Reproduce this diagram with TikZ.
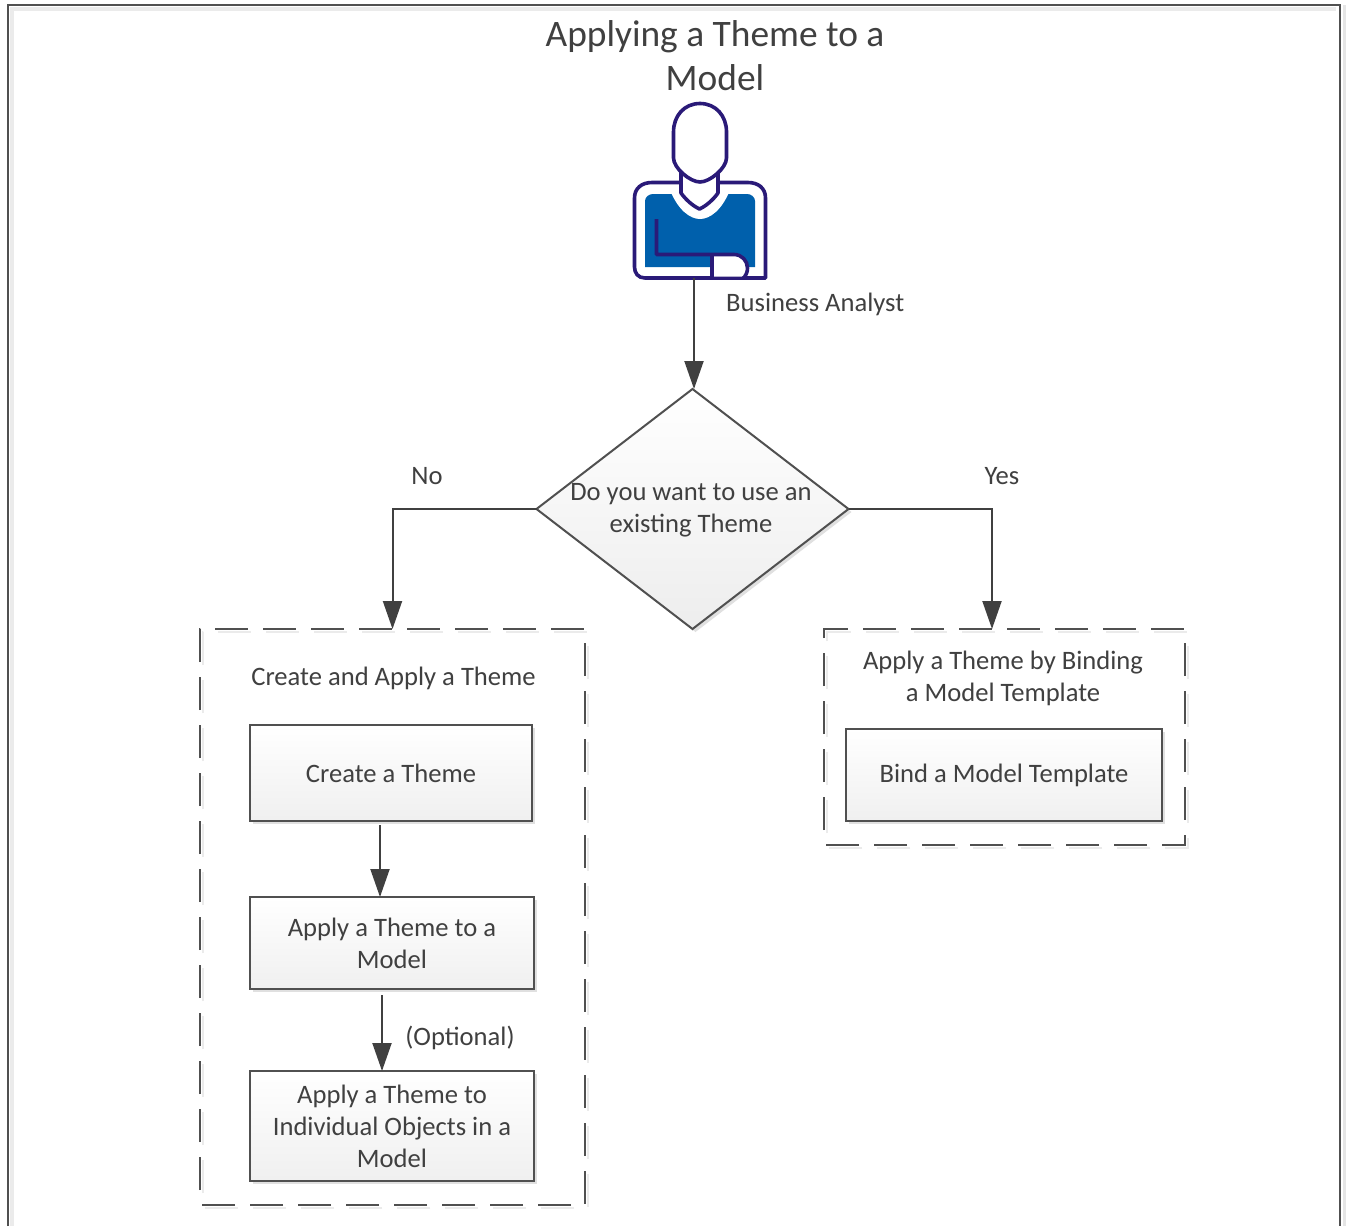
\documentclass[tikz,border=0pt]{standalone}
\usepackage{fontspec}
\setmainfont{Carlito}
\usetikzlibrary{shapes.geometric,arrows.meta}
\definecolor{ink}{HTML}{404040}
\definecolor{line}{HTML}{505050}
\definecolor{navy}{HTML}{2A1A78}
\definecolor{shirt}{HTML}{0060AC}
\tikzset{
  x=1pt,y=-1pt,
  txt/.style={font=\fontsize{26.6}{32}\selectfont,text=ink,align=center,inner sep=0pt},
  titletxt/.style={font=\fontsize{37.4}{44}\selectfont,text=ink,align=center,inner sep=0pt},
  softshadow/.style={preaction={fill=black!12,transform canvas={xshift=3pt,yshift=-3pt}}},
  stepbox/.style={rectangle,draw=line,line width=2.2pt,top color=white,bottom color=black!6,softshadow,
     anchor=north west,inner sep=0pt,outer sep=0pt,text=ink,align=center,font=\fontsize{26.6}{32}\selectfont},
  decision/.style={diamond,draw=line,line width=2pt,top color=white,bottom color=black!7,softshadow,
     minimum width=312pt,minimum height=240pt,inner sep=0pt,outer sep=0pt},
  groupbox/.style={rectangle,anchor=north west,inner sep=0pt,outer sep=0pt},
  groupdash/.style={draw=line,line width=2pt,dash pattern=on 33pt off 15pt,dash phase=33pt,
     preaction={draw=black!8,line width=2pt,dash pattern=on 33pt off 15pt,dash phase=33pt,transform canvas={xshift=3pt,yshift=-3pt}}},
  flow/.style={draw=ink,line width=2pt,-{Triangle[length=28pt,width=19pt]}},
  iconline/.style={draw=navy,line width=3.6pt,line join=round},
}
\begin{document}
\begin{tikzpicture}
\useasboundingbox (0,0) rectangle (1348,1226);
\fill[white] (0,0) rectangle (1348,1226);
% page frame
\draw[black!8,line width=4pt] (12,1226) -- (12,9) -- (1336,9);
\draw[black!10,line width=3pt] (1344,5) -- (1344,1226);
\draw[line,line width=2.6pt] (8,1226) -- (8,5) -- (1340,5) -- (1340,1226);
% title
\node[titletxt] (title) at (715,56) {Applying a Theme to a\\Model};
% person icon
\fill[shirt] (645,267) -- (645,201) .. controls (645,197) and (649,194) .. (653,194) -- (747,194) .. controls (751,194) and (755,197) .. (755,201) -- (755,267) -- cycle;
\fill[white] (670,190) .. controls (678,210) and (690,219) .. (700,219) .. controls (710,219) and (722,210) .. (730,190) -- cycle;
\draw[iconline] (702,278) -- (645,278) .. controls (638,278) and (634.5,273) .. (634.5,267) -- (634.5,198) .. controls (634.5,188) and (642,182.5) .. (652,182.5) -- (748,182.5) .. controls (758,182.5) and (765.5,188) .. (765.5,198) -- (765.5,278) -- (700,278);
\draw[iconline,fill=white] (681,170) -- (681,193) .. controls (686,200) and (693,206) .. (699.5,209) .. controls (706,206) and (713,200) .. (718,193) -- (718,170) -- cycle;
\draw[iconline,fill=white] (700,103.5) .. controls (684,103.5) and (673.5,116) .. (673.5,132) -- (673.5,158) .. controls (673.5,168) and (690,182) .. (700,182) .. controls (710,182) and (726.5,168) .. (726.5,158) -- (726.5,132) .. controls (726.5,116) and (716,103.5) .. (700,103.5) -- cycle;
\fill[white] (713,256) -- (735,256) .. controls (742,256) and (746,262) .. (746,268) .. controls (746,272) and (744,275) .. (742,276.5) -- (713,276.5) -- cycle;
\draw[iconline] (656.5,219) -- (656.5,254.5) -- (734,254.5) .. controls (742,254.5) and (747.5,261) .. (747.5,268) .. controls (747.5,272) and (746,275) .. (744,278);
\draw[iconline] (712,254.5) -- (712,278);
\coordinate (personfoot) at (694,278);
\coordinate (questionin) at (694,389);
\node[txt,anchor=west] (analyst) at (726,304) {Business Analyst};
% decision
\node[decision,label={[txt,name=qtext,xshift=-1.5pt,yshift=-1.5pt]center:Do you want to use an\\existing Theme}] (question) at (692.5,509) {};
\draw[flow] (personfoot) -- (questionin);
\node[txt] (nolabel) at (427,476) {No};
\node[txt] (yeslabel) at (1002,476) {Yes};
% groups
\node[groupbox,minimum width=385pt,minimum height=576pt] (leftgroup) at (200,629) {};
\node[groupbox,minimum width=361pt,minimum height=216pt] (rightgroup) at (824,629) {};
\draw[groupdash] (leftgroup.south west) -- (leftgroup.north west) -- (leftgroup.north east) -- (leftgroup.south east) -- cycle;
\draw[groupdash] (rightgroup.south west) -- (rightgroup.north west) -- (rightgroup.north east) -- (rightgroup.south east) -- cycle;
\coordinate (rightentry) at (992,629);
\node[txt] (leftcap) at (393.5,678) {Create and Apply a Theme};
\node[txt] (rightcap) at (1003,678) {Apply a Theme by Binding\\a Model Template};
% steps
\node[stepbox,minimum width=282pt,minimum height=96pt] (create) at (250,725) {Create a Theme};
\node[stepbox,minimum width=284pt,minimum height=92pt] (applymodel) at (250,897) {Apply a Theme to a\\Model};
\node[stepbox,minimum width=284pt,minimum height=110pt] (applyobjects) at (250,1071) {Apply a Theme to\\Individual Objects in a\\Model};
\node[stepbox,minimum width=316pt,minimum height=92pt] (bind) at (846,729) {Bind a Model Template};
% connectors
\draw[flow] (question.west) -| (leftgroup.north);
\draw[flow] (question.east) -| (rightentry);
\coordinate (createout) at (380,825);
\coordinate (applyin) at (380,897);
\coordinate (modelout) at (382,995);
\coordinate (objectsin) at (382,1071);
\draw[flow] (createout) -- (applyin);
\draw[flow] (modelout) -- (objectsin);
\node[txt] (optional) at (460,1038) {(Optional)};
\end{tikzpicture}
\end{document}
